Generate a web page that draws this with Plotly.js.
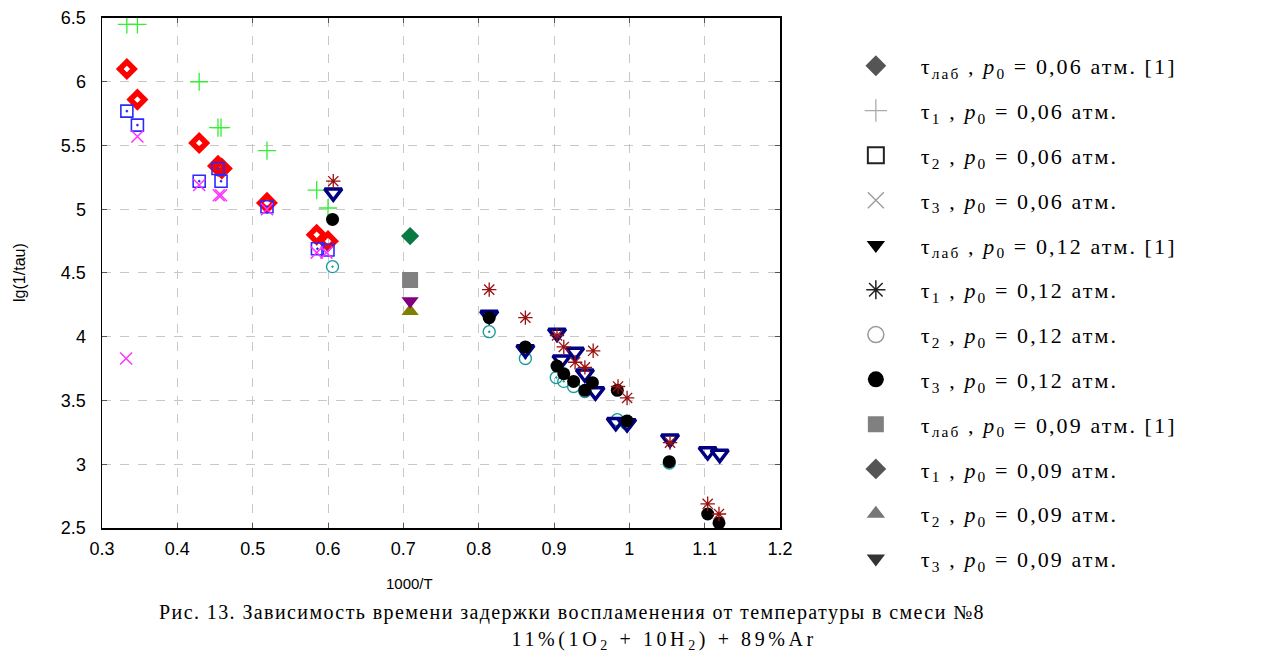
<!DOCTYPE html>
<html><head><meta charset="utf-8">
<script src="https://cdn.plot.ly/plotly-3.0.1.min.js"></script>
<style>body{margin:0;background:#fff}#c{width:1270px;height:664px}
.legendtext{letter-spacing:2.1px}
.annotation.cap1 text{letter-spacing:1.4px}
.annotation.cap2 text{letter-spacing:3.6px}
</style>
</head><body><div id="c"></div>
<script>
// p0 = 0.06 atm
const lab006_x = [0.333, 0.347, 0.429, 0.454, 0.459, 0.519, 0.585, 0.600];
const lab006_y = [6.10, 5.86, 5.52, 5.34, 5.32, 5.05, 4.80, 4.75];
const t1_006_x = [0.333, 0.347, 0.429, 0.454, 0.458, 0.519, 0.585, 0.600];
const t1_006_y = [6.45, 6.45, 6.00, 5.64, 5.64, 5.46, 5.15, 5.01];
const t2_006_x = [0.333, 0.347, 0.429, 0.454, 0.458, 0.519, 0.586, 0.600];
const t2_006_y = [5.77, 5.66, 5.22, 5.32, 5.22, 5.02, 4.69, 4.68];
const t3_006_x = [0.332, 0.347, 0.429, 0.455, 0.458, 0.519, 0.585, 0.598];
const t3_006_y = [3.83, 5.57, 5.19, 5.11, 5.11, 5.00, 4.66, 4.66];
// p0 = 0.12 atm
const lab012_x = [0.607, 0.814, 0.862, 0.904, 0.910, 0.928, 0.941, 0.955, 0.982, 0.997, 1.054, 1.104, 1.120];
const lab012_y = [5.13, 4.17, 3.90, 4.03, 3.82, 3.88, 3.71, 3.57, 3.33, 3.32, 3.20, 3.10, 3.08];
const t1_012_x = [0.607, 0.814, 0.862, 0.904, 0.913, 0.928, 0.941, 0.952, 0.985, 0.997, 1.054, 1.104, 1.119];
const t1_012_y = [5.22, 4.37, 4.15, 4.01, 3.92, 3.80, 3.76, 3.89, 3.61, 3.52, 3.17, 2.69, 2.61];
const t2_012_x = [0.606, 0.814, 0.862, 0.903, 0.913, 0.926, 0.941, 0.984, 0.996, 1.053];
const t2_012_y = [4.55, 4.04, 3.83, 3.68, 3.65, 3.61, 3.57, 3.35, 3.32, 3.01];
const t3_012_x = [0.606, 0.814, 0.862, 0.904, 0.913, 0.926, 0.941, 0.951, 0.984, 0.997, 1.053, 1.104, 1.119];
const t3_012_y = [4.92, 4.15, 3.92, 3.77, 3.71, 3.65, 3.58, 3.64, 3.58, 3.34, 3.02, 2.61, 2.54];
// p0 = 0.09 atm
const lab009_x = [0.709], lab009_y = [4.445];
const t1_009_x = [0.709], t1_009_y = [4.79];
const t2_009_x = [0.709], t2_009_y = [4.20];
const t3_009_x = [0.709], t3_009_y = [4.28];

const legendNames = [
  "τ<sub>лаб</sub> , <i>p</i><sub>0</sub> = 0,06 атм. [1]",
  "τ<sub>1</sub> , <i>p</i><sub>0</sub> = 0,06 атм.",
  "τ<sub>2</sub> , <i>p</i><sub>0</sub> = 0,06 атм.",
  "τ<sub>3</sub> , <i>p</i><sub>0</sub> = 0,06 атм.",
  "τ<sub>лаб</sub> , <i>p</i><sub>0</sub> = 0,12 атм. [1]",
  "τ<sub>1</sub> , <i>p</i><sub>0</sub> = 0,12 атм.",
  "τ<sub>2</sub> , <i>p</i><sub>0</sub> = 0,12 атм.",
  "τ<sub>3</sub> , <i>p</i><sub>0</sub> = 0,12 атм.",
  "τ<sub>лаб</sub> , <i>p</i><sub>0</sub> = 0,09 атм. [1]",
  "τ<sub>1</sub> , <i>p</i><sub>0</sub> = 0,09 атм.",
  "τ<sub>2</sub> , <i>p</i><sub>0</sub> = 0,09 атм.",
  "τ<sub>3</sub> , <i>p</i><sub>0</sub> = 0,09 атм."
];
const captionLine1 = 'Рис. 13. Зависимость времени задержки воспламенения от температуры в смеси №8';
const captionLine2 = '11%(1O<sub>2</sub> + 10H<sub>2</sub>) + 89%Ar';

function pts(x, y, marker) {
  return {type:'scatter', mode:'markers', x:x, y:y, marker:marker, showlegend:false, hoverinfo:'x+y'};
}
const data = [
  pts(t1_006_x, t1_006_y, {symbol:'cross-thin-open', size:13, color:'#33ee33', line:{width:1.3}}),
  pts(lab006_x, lab006_y, {symbol:'diamond-open', size:11, color:'#ff0000', line:{width:5.5}}),
  pts(t2_006_x, t2_006_y, {symbol:'square-open-dot', size:12, color:'#2a2aff', line:{width:1.6}}),
  pts(t3_006_x, t3_006_y, {symbol:'x-thin-open', size:12, color:'#ff33ff', line:{width:1.5}}),
  pts(t2_012_x, t2_012_y, {symbol:'circle-open-dot', size:12, color:'#1a9a9a', line:{width:1.4}}),
  pts(lab012_x, lab012_y, {symbol:'triangle-down-open', size:15, color:'#000080', line:{width:3.5}}),
  pts(t3_012_x, t3_012_y, {symbol:'circle', size:13, color:'#000000'}),
  pts(t1_012_x, t1_012_y, {symbol:'asterisk-open', size:12, color:'#9a1010', line:{width:1.3}}),
  pts(lab009_x, lab009_y, {symbol:'square', size:16, color:'#808080'}),
  pts(t1_009_x, t1_009_y, {symbol:'diamond', size:14, color:'#0a7a45'}),
  pts(t2_009_x, t2_009_y, {symbol:'triangle-up', size:15, color:'#808000'}),
  pts(t3_009_x, t3_009_y, {symbol:'triangle-down', size:15, color:'#800080'})
];

const legendMarkers = [
  {symbol:'diamond', size:16, color:'#555555'},
  {symbol:'cross-thin-open', size:16, color:'#aaaaaa', line:{width:1.3}},
  {symbol:'square-open', size:16, color:'#222222', line:{width:2}},
  {symbol:'x-thin-open', size:16, color:'#999999', line:{width:1.3}},
  {symbol:'triangle-down', size:16, color:'#000000'},
  {symbol:'asterisk-open', size:16, color:'#222222', line:{width:1.5}},
  {symbol:'circle-open', size:16, color:'#999999', line:{width:1.5}},
  {symbol:'circle', size:16, color:'#000000'},
  {symbol:'square', size:16, color:'#808080'},
  {symbol:'diamond', size:16, color:'#555555'},
  {symbol:'triangle-up', size:16, color:'#777777'},
  {symbol:'triangle-down', size:16, color:'#333333'}
];
legendNames.forEach((n, i) => {
  data.push({type:'scatter', mode:'markers', x:[null], y:[null], name:n,
    legendgroup:'g'+i, marker:legendMarkers[i], showlegend:true, hoverinfo:'skip'});
});

const axFont = {family:'Liberation Sans, Arial, sans-serif', size:18, color:'#000'};
const layout = {
  width:1270, height:664,
  margin:{l:102, r:490, t:10, b:10},
  paper_bgcolor:'#fff', plot_bgcolor:'#fff',
  font:{family:'Liberation Sans, Arial, sans-serif', color:'#000'},
  xaxis:{range:[0.3,1.2], dtick:0.1, tick0:0.3, showgrid:true, gridcolor:'#c8c8c8', griddash:'dash', gridwidth:1,
    zeroline:false, showline:true, linecolor:'#000', linewidth:1.5, mirror:'ticks', ticks:'inside', ticklen:5,
    tickcolor:'#555', tickfont:axFont, ticklabelstandoff:4},
  yaxis:{domain:[0.19565, 0.98758], range:[2.5,6.5], dtick:0.5, tick0:2.5, showgrid:true, gridcolor:'#c8c8c8', griddash:'dash', gridwidth:1,
    zeroline:false, showline:true, linecolor:'#000', linewidth:1.5, mirror:'ticks', ticks:'inside', ticklen:5,
    tickcolor:'#555', tickfont:axFont, ticklabelstandoff:11},
  legend:{x:1.075, y:0.9457, xanchor:'left', yanchor:'top', traceorder:'grouped', tracegroupgap:13.2,
    itemwidth:80, maxheight:1, font:{family:'Liberation Serif, Times New Roman, serif', size:22, color:'#000'},
    bgcolor:'rgba(0,0,0,0)'},
  annotations:[
    {xref:'paper', yref:'paper', x:0.454, y:0.1102, xanchor:'center', yanchor:'middle', text:'1000/T', showarrow:false,
     font:{family:'Liberation Sans, Arial, sans-serif', size:15, color:'#000'}},
    {xref:'paper', yref:'paper', x:-0.121, y:0.5932, xanchor:'center', yanchor:'middle', text:'lg(1/tau)', textangle:-90, showarrow:false,
     font:{family:'Liberation Sans, Arial, sans-serif', size:16, color:'#000'}},
    {xref:'paper', yref:'paper', x:0.693, y:0.0637, xanchor:'center', yanchor:'middle', text:captionLine1,
     showarrow:false, font:{family:'Liberation Serif, Times New Roman, serif', size:20, color:'#000'}},
    {xref:'paper', yref:'paper', x:0.830, y:0.0202, xanchor:'center', yanchor:'middle', text:captionLine2,
     showarrow:false, font:{family:'Liberation Serif, Times New Roman, serif', size:20, color:'#000'}}
  ]
};
Plotly.newPlot('c', data, layout, {displayModeBar:false, staticPlot:true}).then(() => {
  const anns = document.querySelectorAll('.annotation');
  if (anns[2]) anns[2].classList.add('cap1');
  if (anns[3]) anns[3].classList.add('cap2');
});
</script></body></html>
